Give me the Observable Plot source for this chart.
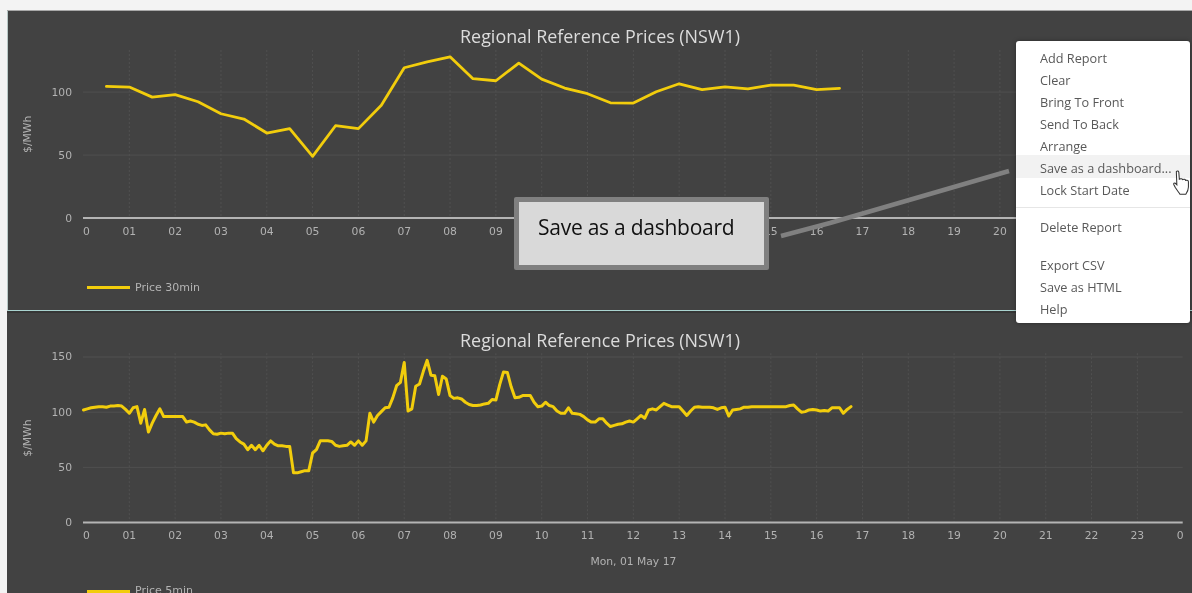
<!DOCTYPE html>
<html>
<head>
<meta charset="utf-8">
<script src="https://cdn.jsdelivr.net/npm/d3@7"></script>
<script src="https://cdn.jsdelivr.net/npm/@observablehq/plot@0.6"></script>
<style>
html,body{margin:0;padding:0;background:#f3f3f3;}
#page{position:relative;width:1192px;height:593px;overflow:hidden;background:#f3f3f3;font-family:"DejaVu Sans",sans-serif;filter:blur(0.35px);}
.abs{position:absolute;}
.panel{position:absolute;left:7px;right:0;background:#424242;}
.chart{position:absolute;left:0;}
.chart svg{display:block;background:transparent;}
.title{position:absolute;left:300px;width:600px;text-align:center;font:17.9px "Open Sans",sans-serif;color:#dcdcdc;line-height:22px;}
.legline{position:absolute;left:87px;width:43px;height:3px;background:#f2cd0c;}
.legtext{position:absolute;left:135px;font:11px "DejaVu Sans",sans-serif;color:#b4b4b4;line-height:12px;}
#callout{position:absolute;left:514px;top:197px;width:245px;height:63px;border:5px solid #808080;border-radius:2px;background:#d9d9d9;color:#111;font:21px "Open Sans",sans-serif;}
#callout span{position:absolute;left:19px;top:11px;line-height:28px;letter-spacing:-.25px;white-space:nowrap;}
#menu{position:absolute;left:1016px;top:41px;width:174px;height:282px;background:#fff;border-radius:3px;box-shadow:0 0 4px rgba(0,0,0,.35);}
#menu div.item{position:absolute;left:24px;font:12.7px "Open Sans",sans-serif;color:#595959;line-height:18px;white-space:nowrap;}
#menu .hl{position:absolute;left:0;right:0;top:114px;height:23px;background:#f2f2f2;}
#menu .sep{position:absolute;left:0;right:0;top:166px;height:1px;background:#e6e6e6;}
</style>
</head>
<body>
<div id="page">
  <div class="panel" style="top:11px;height:299px;"></div>
  <div class="abs" style="left:7px;right:0;top:10px;height:1px;background:#a8a8a8;"></div>
  <div class="abs" style="left:7px;right:0;top:310px;height:1px;background:#a9d3cf;"></div>
  <div class="abs" style="left:7px;right:0;top:311px;height:2px;background:#353535;"></div>
  <div class="panel" style="top:313px;height:280px;"></div>
  <div class="abs" style="left:7px;top:11px;width:1px;height:300px;background:#b8c8c6;"></div>
  <div class="chart" id="c1" style="top:0;"></div>
  <div class="chart" id="c2" style="top:313px;"></div>
  <div class="title" style="top:25px;">Regional Reference Prices (NSW1)</div>
  <div class="title" style="top:329px;">Regional Reference Prices (NSW1)</div>
  <div class="legline" style="top:286px;"></div>
  <div class="legtext" style="top:282px;">Price 30min</div>
  <div class="legline" style="top:590px;height:4px;"></div>
  <div class="legtext" style="top:585px;">Price 5min</div>
  <svg class="abs" style="left:0;top:0;" width="1192" height="593">
    <path d="M781 236 L830 223 L1009 171" fill="none" stroke="#808080" stroke-width="4.5"/>
  </svg>
  <div id="callout"><span>Save as a dashboard</span></div>
  <div id="menu"><div class="hl"></div><div class="sep"></div></div>
  <svg class="abs" style="left:1171px;top:169px;" width="21" height="31" viewBox="0 0 20 30">
    <path d="M5 2.5c1-1 2.200-.6 2.400.8l.5 6.700 1.300-.5c.9-.2 1.600 0 1.800.8l1.300-.3c.9-.1 1.500.2 1.700 1l1.200-.1c1-.1 1.500.6 1.500 1.600v5c0 3-1.500 5.500-2.500 7H8.500c-1-1.800-3-4-4.500-6.500l-1.500-3c-.4-1 .6-1.800 1.500-1.200l1.500 1.500z" fill="#fff" stroke="#333" stroke-width="1"/>
  </svg>
</div>
<script>
const price30 = [104.5,104,96,98,92.3,82.8,78.6,67.5,71,49,73.3,71,89.5,119.3,124,128,110.6,109,123,110.3,103.2,98.7,91.5,91.3,100.3,106.6,102,104.2,102.6,105.5,105.5,102,103];
const price5 = [
102,103,104,104.5,105,105,104.5,105.5,105.7,106,105.5,102.5,99,104,105,90,102.5,82,90,97,103,96,96,96,96,96,96,91,92,91,89,88,88.5,84,80.5,80,81,80.5,81,81,76,73,71,66,70,66,70,65,70,74,
71,69.5,69.5,69,69,45,45,46,47,47,63,66,74,74,74,73.5,70,69,69.5,70,73,70,74,70,74,99,91,97,100.5,104,104.5,113,124,127,145,101,103,123.5,125.5,137,147,133.5,133,116,132.5,130,115,112.5,113,112,
109,107,106,106,106.5,107.5,108,111.5,111,125,136.5,136,123,113,113.5,115,115,115,109,105,105.5,109,106,105,101,99,99,104,99,98.5,98,96,93,91,91,94,94,90,87,88,89,89.5,91,92,91,94,97,94.5,102,103,
102,105,108,106.5,105,105,105,101,97,101,104.5,105,104.5,104.5,104.5,104,102.5,104,104.5,96.5,102,102.5,103,104.5,104.5,105,105,105,105,105,105,105,105,105,105,106,106.5,103,100,100.5,102,102.5,102,101,101.5,101,104,104,104,99,102.5,105];
const allHours = d3.range(1, 24);
const hourTicksTop = [1,2,3,4,5,6,7,8,9,15,16,17,18,19,20];
const hourTicksBottom = allHours;
const yTicksTop = [0, 50, 100];
const yTicksBottom = [0, 50, 100, 150];
const menuItems = [["Add Report",58],["Clear",80],["Bring To Front",102],["Send To Back",124],["Arrange",146],["Save as a dashboard...",168],["Lock Start Date",190],["Delete Report",227],["Export CSV",265],["Save as HTML",287],["Help",309]];

const pad = h => String(h).padStart(2, "0");
const gridC = "#505050", tickC = "#b2b2b2", lineC = "#f2cd0c";
const fs = 10.75;

function chart({values, step, height, marginTop, marginBottom, yMax, yTicks, xTicks, xLabel, lastZero, lineW}) {
  const pts = values.map((v, i) => ({h: step.start + i * step.size, v}));
  return Plot.plot({
    width: 1192, height, marginTop, marginBottom, marginLeft: 83, marginRight: 9.3,
    style: {background: "transparent", fontFamily: "DejaVu Sans"},
    x: {type: "linear", domain: [0, 24]},
    y: {domain: [0, yMax]},
    marks: [
      Plot.gridY(yTicks.filter(d => d), {stroke: gridC, strokeOpacity: 1}),
      Plot.gridX(allHours, {stroke: gridC, strokeOpacity: 1, strokeDasharray: "2,2"}),
      Plot.ruleY([0], {stroke: "#b4b4b4", strokeWidth: 2}),
      Plot.axisY({ticks: yTicks, tickSize: 0, tickPadding: 11.5, fontSize: fs, color: tickC, label: "$/MWh", labelAnchor: "center", labelArrow: "none", labelOffset: 60, tickFormat: d => String(d)}),
      Plot.axisX({ticks: xTicks, tickSize: 0, tickPadding: 9, fontSize: fs, color: tickC, tickFormat: pad, label: xLabel, labelAnchor: "center", labelArrow: "none", labelOffset: 42}),
      Plot.text([0], {x: d => d, y: () => 0, dy: 13.5, dx: 3, text: () => "0", fontSize: fs, fill: tickC}),
      ...(lastZero ? [Plot.text([24], {x: d => d, y: () => 0, dy: 13.5, dx: -3, text: () => "0", fontSize: fs, fill: tickC})] : []),
      Plot.line(pts, {x: "h", y: "v", stroke: lineC, strokeWidth: lineW, strokeLinejoin: "round", curve: "linear"})
    ]
  });
}

document.getElementById("c1").append(chart({
  values: price30, step: {start: 0.5, size: 0.5}, height: 311,
  marginTop: 50, marginBottom: 93.4, yMax: 133, yTicks: yTicksTop, xTicks: hourTicksTop, xLabel: null, lastZero: false, lineW: 2.8
}));
document.getElementById("c2").append(chart({
  values: price5, step: {start: 0, size: 1 / 12}, height: 280,
  marginTop: 40.2, marginBottom: 71, yMax: 153, yTicks: yTicksBottom, xTicks: hourTicksBottom, xLabel: "Mon, 01 May 17", lastZero: true, lineW: 3
}));

const menu = document.getElementById("menu");
for (const [t, y] of menuItems) {
  const d = document.createElement("div");
  d.className = "item"; d.textContent = t; d.style.top = (y - 41 - 9) + "px";
  menu.append(d);
}
</script>
</body>
</html>
